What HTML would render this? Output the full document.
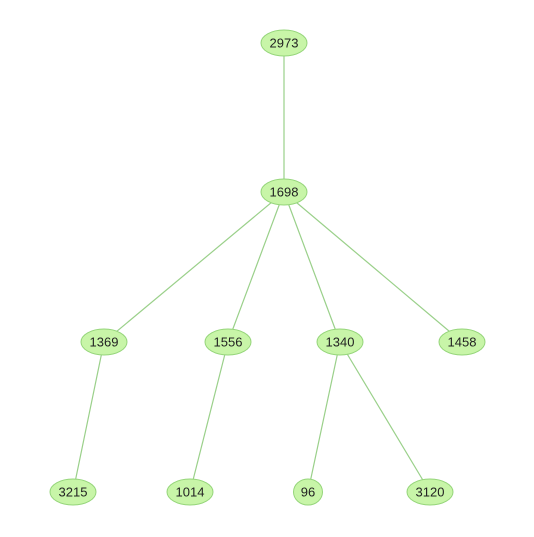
<!DOCTYPE html>
<html><head><style>body{margin:0;background:#fff}</style></head><body>
<svg width="534" height="532" xmlns="http://www.w3.org/2000/svg" font-family="Liberation Sans, sans-serif" font-size="13">
<g stroke="#9ad08a" stroke-width="1.2">
<line x1="284" y1="43" x2="284" y2="192"/>
<line x1="284" y1="192" x2="104" y2="342"/>
<line x1="284" y1="192" x2="228" y2="342"/>
<line x1="284" y1="192" x2="340" y2="342"/>
<line x1="284" y1="192" x2="462" y2="342"/>
<line x1="104" y1="342" x2="73" y2="492"/>
<line x1="228" y1="342" x2="190" y2="492"/>
<line x1="340" y1="342" x2="308" y2="492"/>
<line x1="340" y1="342" x2="430" y2="492"/>
</g>
<g fill="#c8f5a8" stroke="#95d57a" stroke-width="1">
<ellipse cx="284" cy="43" rx="23" ry="13"/>
<ellipse cx="284" cy="192" rx="23" ry="13"/>
<ellipse cx="104" cy="342" rx="23" ry="13"/>
<ellipse cx="228" cy="342" rx="23" ry="13"/>
<ellipse cx="340" cy="342" rx="23" ry="13"/>
<ellipse cx="462" cy="342" rx="23" ry="13"/>
<ellipse cx="73" cy="492" rx="23" ry="13"/>
<ellipse cx="190" cy="492" rx="23" ry="13"/>
<ellipse cx="308" cy="492" rx="14.5" ry="13"/>
<ellipse cx="430" cy="492" rx="23" ry="13"/>
</g>
<g fill="#222" text-anchor="middle">
<text x="284" y="47.5">2973</text>
<text x="284" y="196.5">1698</text>
<text x="104" y="346.5">1369</text>
<text x="228" y="346.5">1556</text>
<text x="340" y="346.5">1340</text>
<text x="462" y="346.5">1458</text>
<text x="73" y="496.5">3215</text>
<text x="190" y="496.5">1014</text>
<text x="308" y="496.5">96</text>
<text x="430" y="496.5">3120</text>
</g>
</svg>
</body></html>
